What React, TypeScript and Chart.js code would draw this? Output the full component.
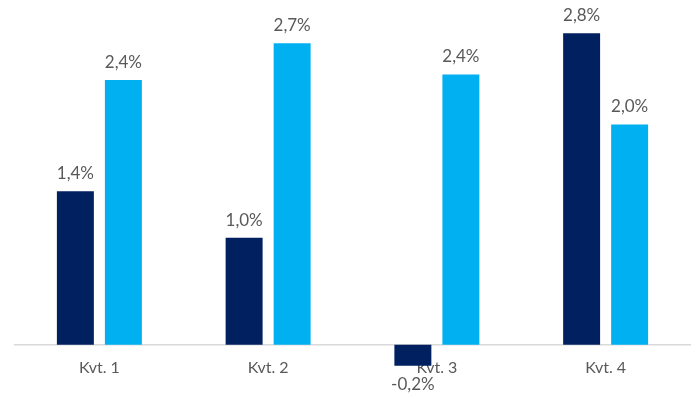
import React, { useEffect, useRef } from "react";
import { Chart, registerables } from "chart.js";

Chart.register(...registerables);

const categories = ["Kvt. 1", "Kvt. 2", "Kvt. 3", "Kvt. 4"];
const seriesA = [1.38, 0.96, -0.19, 2.8];
const seriesB = [2.38, 2.71, 2.43, 1.98];

const colorA = "#002060";
const colorB = "#00B0F0";
const textColor = "#595959";
const fontFamily = "Lato, 'Open Sans', sans-serif";

const fmt = (v: number) => v.toFixed(1).replace(".", ",") + "%";

const labelPlugin = {
  id: "barLabels",
  afterDatasetsDraw(chart: any) {
    const ctx = chart.ctx;
    ctx.save();
    ctx.font = `17px ${fontFamily}`;
    ctx.fillStyle = textColor;
    ctx.textAlign = "center";
    ctx.textBaseline = "alphabetic";
    chart.data.datasets.forEach((ds: any, di: number) => {
      const meta = chart.getDatasetMeta(di);
      meta.data.forEach((bar: any, i: number) => {
        const v = ds.data[i] as number;
        const y = v >= 0 ? bar.y - 12 : bar.y + 24;
        ctx.fillText(fmt(v), bar.x, y);
      });
    });
    ctx.restore();
  },
};

export default function App() {
  const ref = useRef<HTMLCanvasElement | null>(null);
  useEffect(() => {
    document.body.style.margin = "0";
    const chart = new Chart(ref.current as HTMLCanvasElement, {
      type: "bar",
      data: {
        labels: categories,
        datasets: [
          { data: seriesA, backgroundColor: colorA },
          { data: seriesB, backgroundColor: colorB },
        ],
      },
      options: {
        animation: false,
        responsive: false,
        layout: { padding: { left: 15, right: 7, top: 11, bottom: 21 } },
        plugins: { legend: { display: false }, tooltip: { enabled: false } },
        datasets: { bar: { categoryPercentage: 0.569, barPercentage: 0.77 } },
        scales: {
          x: {
            position: { y: 0 } as any,
            grid: { display: false, drawTicks: false },
            border: { display: true, color: "#D9D9D9", width: 1.5 },
            ticks: { color: textColor, font: { size: 16, family: fontFamily }, padding: 14 },
          },
          y: {
            display: false,
            min: -0.3,
            max: 3.0,
          },
        },
      },
      plugins: [labelPlugin],
    });
    return () => chart.destroy();
  }, []);
  return <canvas ref={ref} width={697} height={399} style={{ display: "block" }} />;
}
